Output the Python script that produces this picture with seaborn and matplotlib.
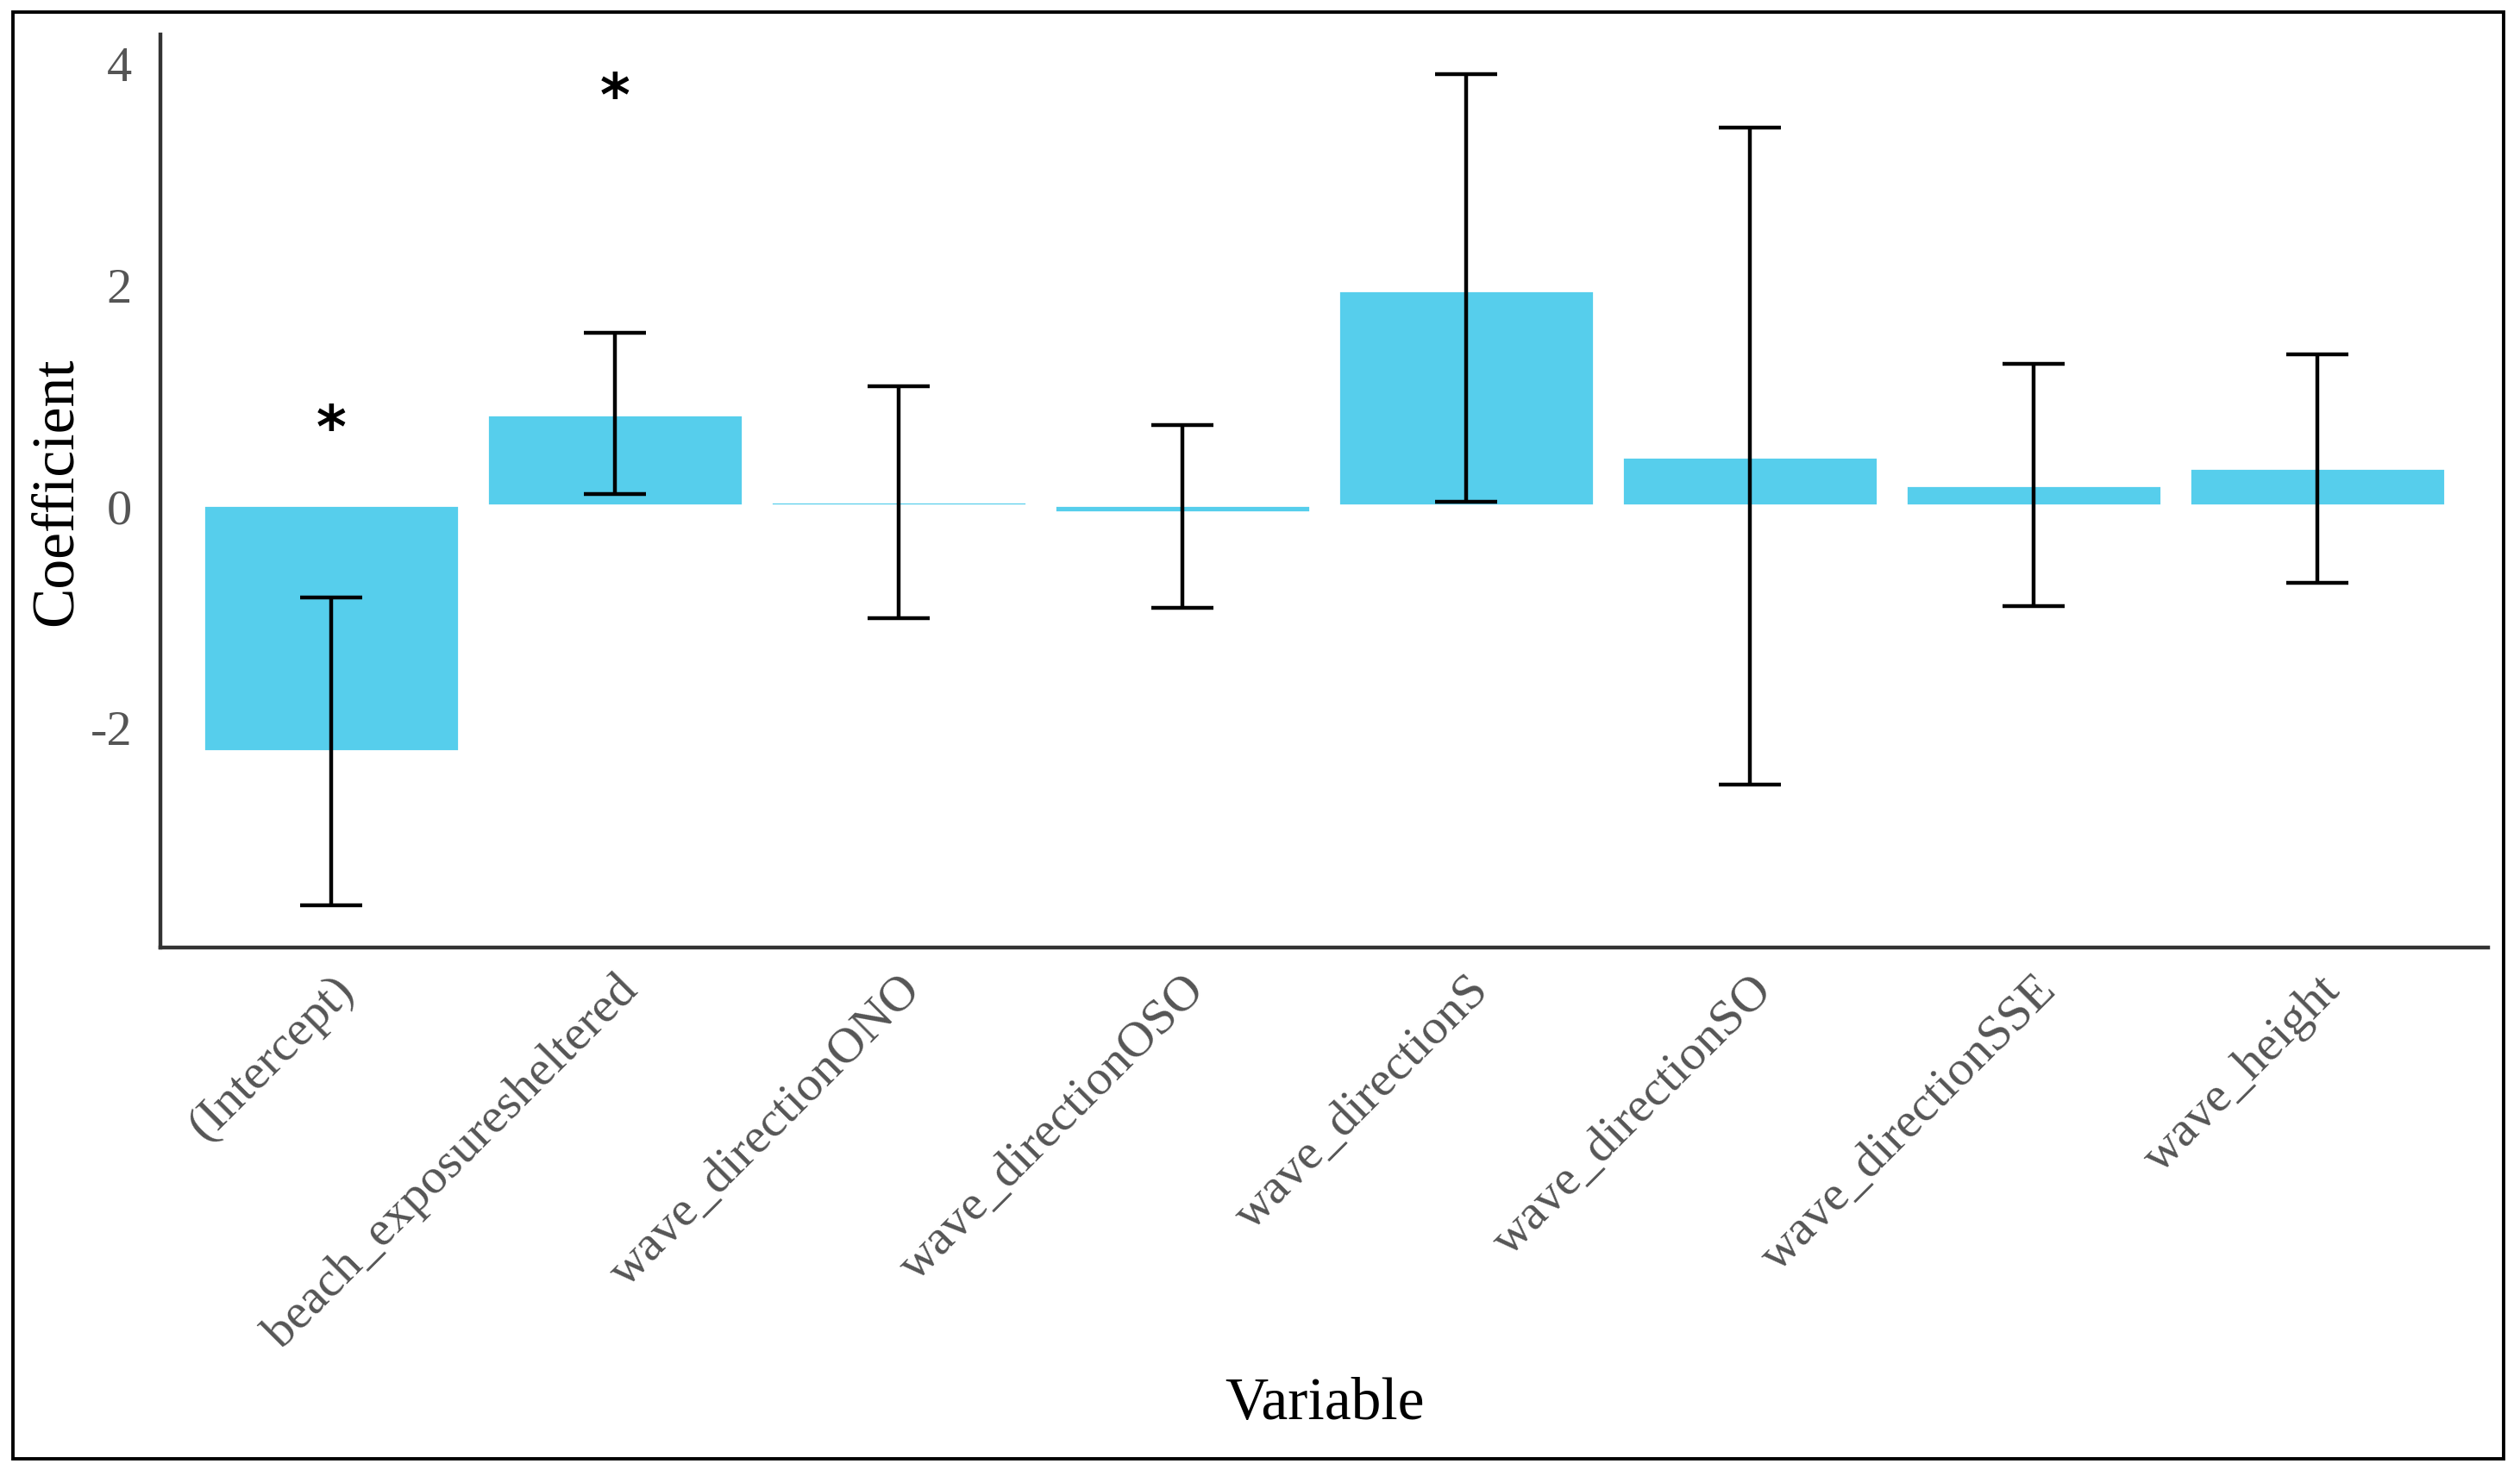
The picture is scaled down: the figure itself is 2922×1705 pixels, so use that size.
import matplotlib
matplotlib.use("Agg")
import matplotlib.pyplot as plt
import seaborn as sns
import pandas as pd
from matplotlib.patches import Rectangle

# ---- data ----
variables = ["(Intercept)", "beach_exposuresheltered", "wave_directionONO",
             "wave_directionOSO", "wave_directionS", "wave_directionSO",
             "wave_directionSSE", "wave_height"]
coefficients = [-2.22, 0.82, 0.03, -0.06, 1.94, 0.44, 0.18, 0.34]
ci_low = [-3.62, 0.10, -1.02, -0.93, 0.03, -2.53, -0.91, -0.70]
ci_high = [-0.83, 1.56, 1.08, 0.73, 3.90, 3.42, 1.28, 1.37]
sig_labels = ["*", "*", "", "", "", "", "", ""]
sig_y = [0.68, 3.68, None, None, None, None, None, None]
y_ticks = [-2, 0, 2, 4]

df = pd.DataFrame({"Variable": variables, "Coefficient": coefficients})

sns.set_theme(style="white")
plt.rcParams["font.family"] = ["Liberation Serif", "DejaVu Serif"]

fig = plt.figure(figsize=(14.61, 8.53), dpi=200)
ax = fig.add_axes([0.0638, 0.3553, 0.9234, 0.6206])

bar_color = "#56CEEC"
sns.barplot(data=df, x="Variable", y="Coefficient", color=bar_color,
            saturation=1, width=0.9, errorbar=None, ax=ax, zorder=2)

pos = list(range(len(variables)))
yerr = [[c - l for c, l in zip(coefficients, ci_low)],
        [h - c for c, h in zip(coefficients, ci_high)]]
ax.errorbar(pos, coefficients, yerr=yerr, fmt="none", ecolor="black",
            elinewidth=1.6, capsize=13, capthick=1.6, zorder=3)

for p, lab, yy in zip(pos, sig_labels, sig_y):
    if lab:
        ax.text(p, yy, lab, ha="center", va="center", fontsize=24,
                color="black", family="DejaVu Sans", fontweight="bold")

ax.set_xlim(-0.6, 7.6)
ax.set_ylim(-4.0, 4.26)
ax.set_yticks(y_ticks)
ax.set_yticklabels([str(t) for t in y_ticks])

for s in ["top", "right"]:
    ax.spines[s].set_visible(False)
for s in ["left", "bottom"]:
    ax.spines[s].set_color("#333333")
    ax.spines[s].set_linewidth(1.6)

ax.tick_params(axis="both", length=0, colors="#555555", labelsize=21)
ax.tick_params(axis="x", pad=8)
ax.tick_params(axis="y", pad=12)
plt.setp(ax.get_xticklabels(), rotation=45, ha="right", va="top",
         rotation_mode="anchor", fontsize=21, color="#555555")

ax.set_xlabel("Variable", fontsize=25, color="black")
ax.set_ylabel("Coefficient", fontsize=25, color="black")
ax.xaxis.set_label_coords(0.5, -0.47)
ax.yaxis.set_label_coords(-0.033, 0.5)

fig.patches.append(Rectangle((0.005, 0.0077), 0.9886, 0.9835,
                             transform=fig.transFigure, fill=False,
                             edgecolor="black", linewidth=1.4))

fig.savefig("out.png", dpi=200)
